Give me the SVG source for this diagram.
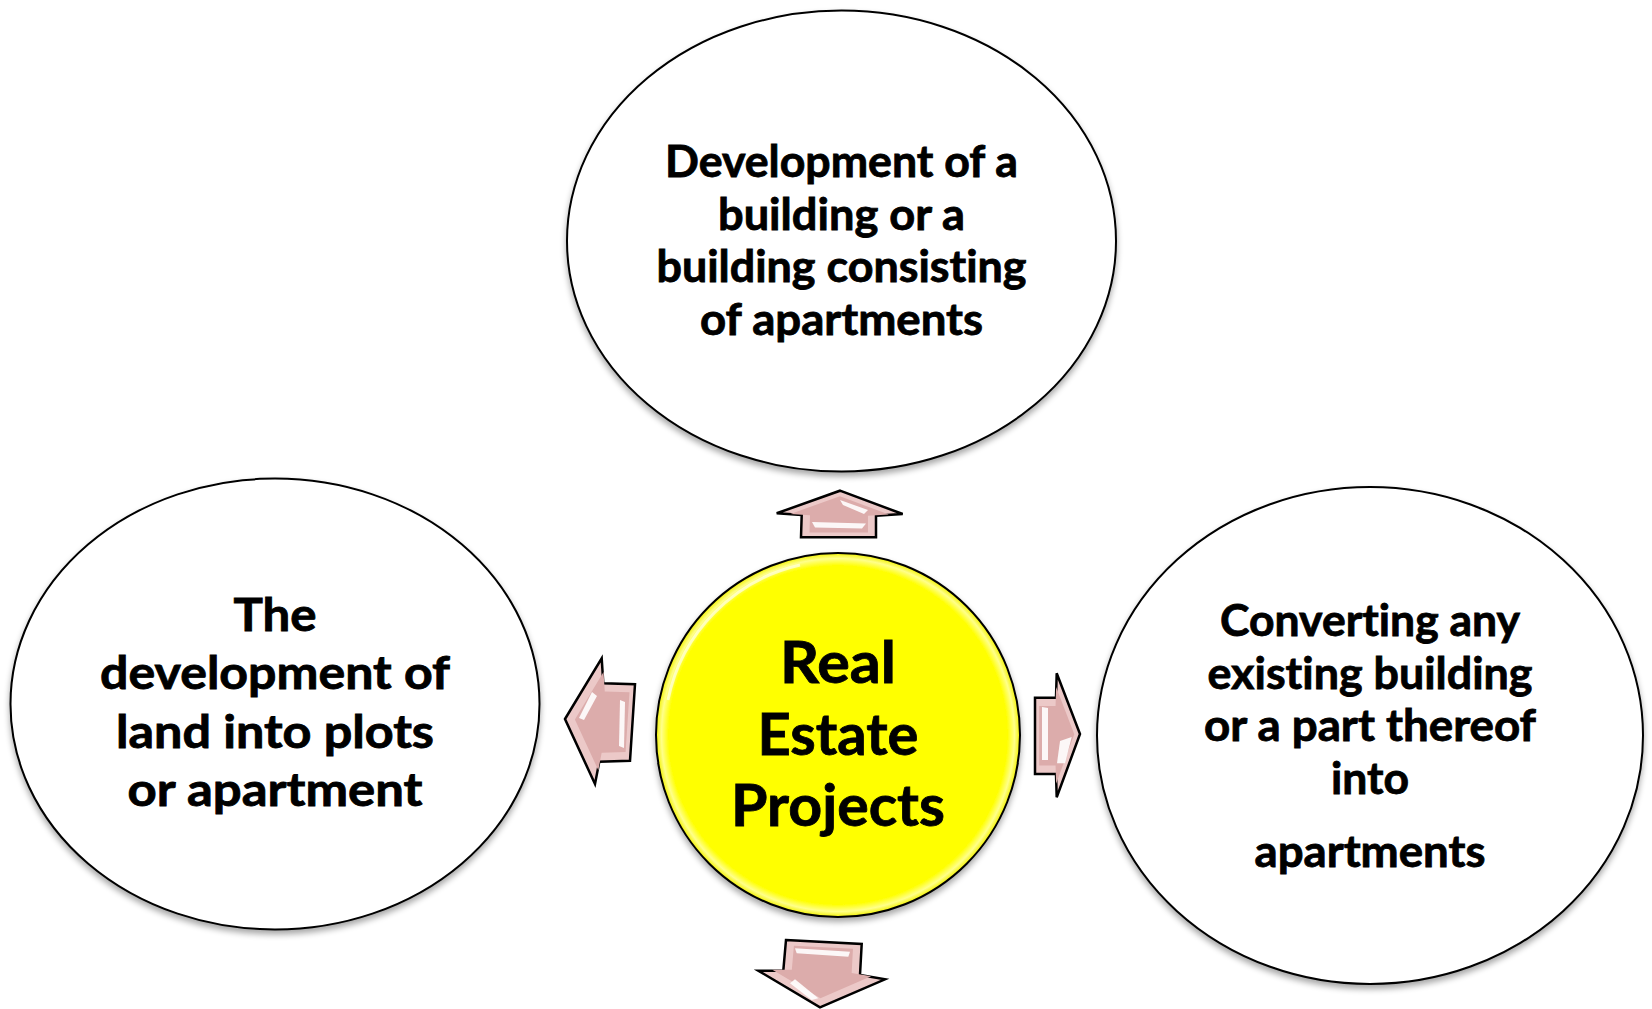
<svg xmlns="http://www.w3.org/2000/svg" width="1652" height="1009" viewBox="0 0 1652 1009">
<defs>
<filter id="shadow" x="-10%" y="-10%" width="120%" height="125%">
<feGaussianBlur in="SourceAlpha" stdDeviation="3"/>
<feOffset dx="0" dy="4" result="b"/>
<feComponentTransfer><feFuncA type="linear" slope="0.35"/></feComponentTransfer>
<feMerge><feMergeNode/><feMergeNode in="SourceGraphic"/></feMerge>
</filter>
<radialGradient id="yel" cx="50%" cy="50%" r="50%">
<stop offset="0" stop-color="#ffff00"/>
<stop offset="0.93" stop-color="#ffff00"/>
<stop offset="0.97" stop-color="#ffff8a"/>
<stop offset="1" stop-color="#f2f200"/>
</radialGradient>
<style>
.node{fill:#ffffff;stroke:#000000;stroke-width:2}
.lbl{font-family:"Lato","Liberation Sans",sans-serif;font-weight:bold;fill:#000000;stroke:#000000;stroke-width:0.8;text-anchor:middle;font-variant-ligatures:none;font-feature-settings:"liga" 0}
.arr{fill:#ecc9c8;stroke:#000000;stroke-width:2.5;stroke-linejoin:miter}
.arrin{fill:#dcacab;stroke:none}
.hl{fill:#ffffff;opacity:0.9}
</style>
</defs>
<rect width="1652" height="1009" fill="#ffffff"/>

<g id="node-top">
<ellipse class="node" cx="841.5" cy="241" rx="274.5" ry="230.5" filter="url(#shadow)"/>
<g class="lbl" font-size="43">
<text x="841.5" y="177" textLength="353" lengthAdjust="spacingAndGlyphs">Development of a</text>
<text x="841.5" y="229.5" textLength="247" lengthAdjust="spacingAndGlyphs">building or a</text>
<text x="841.5" y="282" textLength="370" lengthAdjust="spacingAndGlyphs">building consisting</text>
<text x="841.5" y="334.5" textLength="283" lengthAdjust="spacingAndGlyphs">of apartments</text>
</g>
</g>

<g id="node-left">
<ellipse class="node" cx="275" cy="704" rx="264.5" ry="225.5" filter="url(#shadow)"/>
<g class="lbl" font-size="45">
<text x="275" y="631" textLength="83" lengthAdjust="spacingAndGlyphs">The</text>
<text x="275" y="689" textLength="350" lengthAdjust="spacingAndGlyphs">development of</text>
<text x="275" y="747.5" textLength="318" lengthAdjust="spacingAndGlyphs">land into plots</text>
<text x="275" y="806" textLength="295" lengthAdjust="spacingAndGlyphs">or apartment</text>
</g>
</g>

<g id="node-right">
<ellipse class="node" cx="1370" cy="735.5" rx="273" ry="248.5" filter="url(#shadow)"/>
<g class="lbl" font-size="43">
<text x="1370" y="636" textLength="300" lengthAdjust="spacingAndGlyphs">Converting any</text>
<text x="1370" y="688.5" textLength="325" lengthAdjust="spacingAndGlyphs">existing building</text>
<text x="1370" y="741" textLength="332" lengthAdjust="spacingAndGlyphs">or a part thereof</text>
<text x="1370" y="793.5" textLength="78" lengthAdjust="spacingAndGlyphs">into</text>
<text x="1370" y="867" textLength="231" lengthAdjust="spacingAndGlyphs">apartments</text>
</g>
</g>

<g id="node-center">
<circle cx="838" cy="735" r="182" fill="url(#yel)" stroke="#000000" stroke-width="2" filter="url(#shadow)"/>
<path d="M 668 700 A 174 174 0 0 1 800 565" fill="none" stroke="#ffffff" stroke-width="3" opacity="0.6"/>
<g class="lbl" font-size="57">
<text x="838" y="683" textLength="116" lengthAdjust="spacingAndGlyphs">Real</text>
<text x="838" y="754.5" textLength="161" lengthAdjust="spacingAndGlyphs">Estate</text>
<text x="838" y="826" textLength="214" lengthAdjust="spacingAndGlyphs">Projects</text>
</g>
</g>

<g id="connectors">
<g id="arrow-up">
<polygon class="arr" points="840,490.7 902.7,514 876,515.7 876,537.3 801,537.3 801.7,515 776.7,513.3"/>
<polygon class="arrin" transform="translate(839.5,516) scale(0.78) translate(-839.5,-516)" points="840,490.7 902.7,514 876,515.7 876,537.3 801,537.3 801.7,515 776.7,513.3"/>
<polygon class="hl" points="840,500 868,510 864,514 843,505"/>
<polygon class="hl" points="812,522 866,523.5 862,528.5 815,527.5"/>
</g>
<g id="arrow-left">
<polygon class="arr" points="565,719 601.7,658.3 603.3,683.3 635,684.3 630,760.7 599.3,761.7 595,784"/>
<polygon class="arrin" transform="translate(610,721) scale(0.78) translate(-610,-721)" points="565,719 601.7,658.3 603.3,683.3 635,684.3 630,760.7 599.3,761.7 595,784"/>
<polygon class="hl" points="592,692 597,696 584,720 579,718"/>
<polygon class="hl" points="620,700 625,702 624,748 619,746"/>
</g>
<g id="arrow-right">
<polygon class="arr" points="1035,697.7 1056,697.7 1056.7,673.3 1080,734 1056.7,797.3 1056,774 1035,774"/>
<polygon class="arrin" transform="translate(1054,735.5) scale(0.78) translate(-1054,-735.5)" points="1035,697.7 1056,697.7 1056.7,673.3 1080,734 1056.7,797.3 1056,774 1035,774"/>
<polygon class="hl" points="1042,707 1048,708 1048,760 1042,760"/>
<polygon class="hl" points="1060,741 1071.7,737 1065,763.3 1057,763.3"/>
</g>
<g id="arrow-down">
<polygon class="arr" points="786,940 861.7,944 860,975 885,979.3 820,1007.3 758.3,970.7 783.3,970.7"/>
<polygon class="arrin" transform="translate(822,966) scale(0.78) translate(-822,-966)" points="786,940 861.7,944 860,975 885,979.3 820,1007.3 758.3,970.7 783.3,970.7"/>
<polygon class="hl" points="795,948.3 850,951.7 848.3,956.7 796.7,953.3"/>
<polygon class="hl" points="795,979.3 818.3,998.3 811.7,1000 790,983.3"/>
</g>
</g>
</svg>
